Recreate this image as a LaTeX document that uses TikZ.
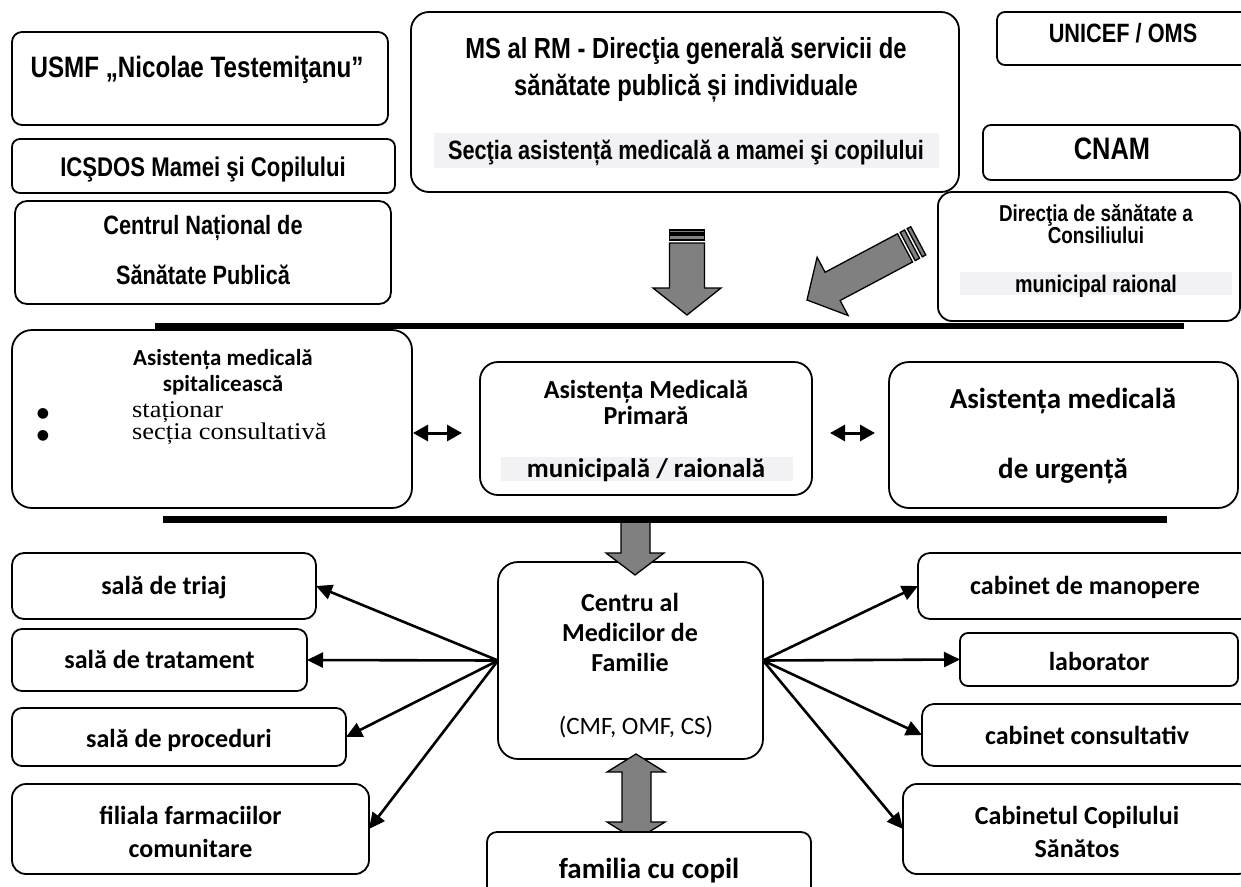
\documentclass[tikz,border=0pt]{standalone}
\usepackage{fontspec}
\usetikzlibrary{arrows.meta}
\newfontfamily\arnf[FakeStretch=0.82]{Liberation Sans}
\newfontfamily\calf{Carlito}
\newfontfamily\tmsf[FakeStretch=1.1]{Liberation Serif}
\newfontfamily\djf{DejaVu Sans}
\definecolor{bandgray}{RGB}{242,242,245}
\definecolor{blockgray}{RGB}{128,128,128}
\newcommand\mkbox[6][10]{\node[box=#1pt, minimum width={#5pt-#3pt}, minimum height={#6pt-#4pt}] (#2) at ({(#3+#5)/2},{(#4+#6)/2}) {};}
\begin{document}
\begin{tikzpicture}[x=1pt,y=-1pt,
  box/.style={draw=black, line width=1.8pt, fill=white, inner sep=0pt, outer sep=0pt, rounded corners=#1},
  box/.default=10pt,
  band/.style={fill=bandgray, draw=none},
  lA/.style={inner sep=0pt, anchor=base, font=\arnf\bfseries\fontsize{#1}{#1}\selectfont},
  lC/.style={inner sep=0pt, anchor=base, font=\calf\bfseries\fontsize{#1}{#1}\selectfont},
  lR/.style={inner sep=0pt, anchor=base, font=\calf\fontsize{#1}{#1}\selectfont},
  lT/.style={inner sep=0pt, anchor=base west, font=\tmsf\fontsize{#1}{#1}\selectfont},
  bul/.style={inner sep=0pt, anchor=base, font=\djf\fontsize{14}{14}\selectfont},
  blk/.style={fill=blockgray, draw=black, line width=1.3pt, line join=miter},
  arr/.style={line width=2.6pt, -{Triangle[length=16pt,width=15pt]}},
  dbl/.style={line width=3pt, {Triangle[length=15pt,width=16pt]}-{Triangle[length=15pt,width=16pt]}},
  sepline/.style={line width=6.5pt}
]
\useasboundingbox (0,0) rectangle (1241,886);
\fill[white] (0,0) rectangle (1241,886);

% ---------- top level ----------
\mkbox[10]{usmf}{12}{32}{388}{125}
\mkbox[8]{icsdos}{12}{139}{395}{193}
\mkbox[12]{cnsp}{15}{201}{391}{304}
\mkbox[18]{ms}{411}{12}{959}{192}
\mkbox[8]{unicef}{997}{12}{1252}{65}
\mkbox[8]{cnam}{983}{125}{1240}{180}
\mkbox[14]{dsc}{938}{192}{1240}{321}

\fill[band] (434,133) rectangle (939,168);
\fill[band] (960,272) rectangle (1232,295);

\node[lA=29.5] (t-usmf) at (197,77.5) {USMF „Nicolae Testemiţanu”};
\node[lA=27] (t-icsdos) at (203,176.8) {ICŞDOS Mamei şi Copilului};
\node[lA=26.5] (t-cnsp1) at (203,234.6) {Centrul Național de};
\node[lA=26.5] (t-cnsp2) at (203,284.6) {Sănătate Publică};
\node[lA=29] (t-ms1) at (686,58.4) {MS al RM - Direcţia generală servicii de};
\node[lA=29] (t-ms2) at (686,95.4) {sănătate publică și individuale};
\node[lA=26.5] (t-ms3) at (686,159.5) {Secţia asistență medicală a mamei şi copilului};
\node[lA=26.5] (t-unicef) at (1123,42.5) {UNICEF / OMS};
\node[lA=31] (t-cnam) at (1112,159.5) {CNAM};
\node[lA=23] (t-dsc1) at (1096,221.3) {Direcţia de sănătate a};
\node[lA=23] (t-dsc2) at (1096,243.3) {Consiliului};
\node[lA=24] (t-dsc3) at (1096,292.2) {municipal raional};

% block arrows (top)
\draw[blk] (669.5,230) rectangle (704.5,233);
\draw[blk] (669.5,235) rectangle (704.5,240);
\draw[blk] (669.5,243) -- (704.5,243) -- (704.5,288) -- (721,288) -- (687,315) -- (653,288) -- (669.5,288) -- cycle;
\begin{scope}[shift={(807,300)}, rotate=28]
  \draw[blk] (0,0) -- (29,-33) -- (29,-16) -- (111,-16) -- (111,16) -- (29,16) -- (29,33) -- cycle;
  \draw[blk] (114,-16) rectangle (119,16);
  \draw[blk] (122,-16) rectangle (126,16);
\end{scope}

% separator lines
\coordinate (l1a) at (155,326);
\coordinate (l1b) at (1184,326);
\coordinate (l2a) at (163,519.5);
\coordinate (l2b) at (1167,519.5);

% ---------- middle level ----------
\mkbox[20]{spital}{12}{330}{412}{508}
\mkbox[18]{amp}{480}{362}{812}{495}
\mkbox[20]{urg}{889}{362}{1238}{508}
\fill[band] (501,457) rectangle (793,481);

\node[lC=23] (t-sp1) at (223,365.3) {Asistența medicală};
\node[lC=23] (t-sp2) at (223,391.3) {spitalicească};
\node[bul] (b1) at (43,417) {●};
\node[bul] (b2) at (43,439) {●};
\node[lT=24] (t-sp3) at (132,417.5) {staționar};
\node[lT=24] (t-sp4) at (132,439.5) {secția consultativă};

\node[lC=26] (t-amp1) at (646,398) {Asistența Medicală};
\node[lC=26] (t-amp2) at (646,424) {Primară};
\node[lC=27] (t-amp3) at (646,477.7) {municipală / raională};

\node[lC=29] (t-urg1) at (1063,408.4) {Asistența medicală};
\node[lC=29] (t-urg2) at (1063,478.4) {de urgență};

\coordinate (d1a) at (413,433);
\coordinate (d1b) at (462,433);
\coordinate (d2a) at (830,433);
\coordinate (d2b) at (875,433);
\draw[dbl] (d1a) -- (d1b);
\draw[dbl] (d2a) -- (d2b);

% ---------- lower level ----------
\mkbox[12]{triaj}{12}{553}{316}{619}
\mkbox[10]{trat}{12}{629}{307}{691}
\mkbox[10]{proc}{12}{708}{346}{766}
\mkbox[14]{fil}{12}{784}{369}{874}
\mkbox[12]{man}{918}{553}{1252}{619}
\mkbox[8]{lab}{960}{633}{1238}{686}
\mkbox[12]{cons}{922}{704}{1252}{766}
\mkbox[14]{ccs}{903}{784}{1252}{874}
\mkbox[20]{cmf}{498}{562}{763}{759}

\node[lC=26] (t-triaj) at (164,594.4) {sală de triaj};
\node[lC=26] (t-trat) at (159.5,668.4) {sală de tratament};
\node[lC=26] (t-proc) at (179,747.4) {sală de proceduri};
\node[lC=26] (t-fil1) at (190.5,824.4) {filiala farmaciilor};
\node[lC=26] (t-fil2) at (190.5,857.4) {comunitare};
\node[lC=26] (t-man) at (1085,594.4) {cabinet de manopere};
\node[lC=26] (t-lab) at (1099,670.4) {laborator};
\node[lC=26] (t-cons) at (1087,744.4) {cabinet consultativ};
\node[lC=26] (t-ccs1) at (1077,824.4) {Cabinetul Copilului};
\node[lC=26] (t-ccs2) at (1077,857.4) {Sănătos};
\node[lC=26] (t-cmf1) at (630,611.4) {Centru al};
\node[lC=26] (t-cmf2) at (630,641.4) {Medicilor de};
\node[lC=26] (t-cmf3) at (630,671.4) {Familie};
\node[lR=25] (t-cmf4) at (636,734) {(CMF, OMF, CS)};

\draw[arr] (cmf.west) -- (triaj.east);
\draw[arr] (cmf.west) -- (trat.east);
\draw[arr] (cmf.west) -- (proc.east);
\draw[arr] (cmf.west) -- (fil.east);
\draw[arr] (cmf.east) -- (man.west);
\draw[arr] (cmf.east) -- (lab.west);
\draw[arr] (cmf.east) -- (cons.west);
\draw[arr] (cmf.east) -- (ccs.west);

% block arrows (lower)
\draw[blk] (621,522) -- (650,522) -- (650,553) -- (664,553) -- (635,575) -- (606,553) -- (621,553) -- cycle;
\draw[blk] (636,754) -- (665,772) -- (651,772) -- (651,822) -- (665,822) -- (636,840) -- (607,822) -- (622,822) -- (622,772) -- (607,772) -- cycle;

\mkbox[10]{fam}{487}{832}{811}{905}
\node[lC=29] (t-fam) at (649,878) {familia cu copil};

\draw[sepline] (l1a) -- (l1b);
\draw[sepline] (l2a) -- (l2b);
\end{tikzpicture}
\end{document}
